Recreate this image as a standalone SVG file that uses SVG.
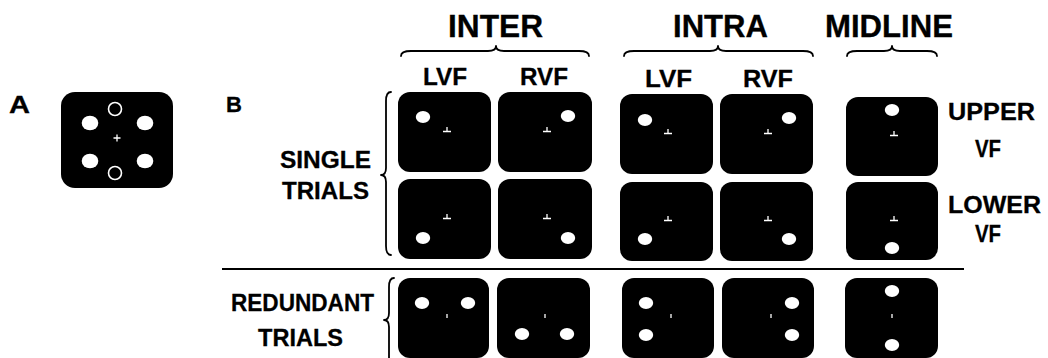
<svg xmlns="http://www.w3.org/2000/svg" width="1048" height="358" viewBox="0 0 1048 358">
  <defs>
    <style>
      .lbl { font-family: "Liberation Sans", Arial, sans-serif; font-weight: bold; fill: #000; stroke: #000; stroke-width: 0.3; }
      .big { font-size: 31px; }
      .mid { font-size: 24px; }
      .scr { fill: #000; }
      .dot { fill: #fff; }
      .ring { fill: none; stroke: #fff; stroke-width: 1.6; }
      .fix { fill: none; stroke: #fff; stroke-width: 1.3; }
      .brace { fill: none; stroke: #000; stroke-width: 1.8; stroke-linecap: round; stroke-linejoin: round; }
      .rule { stroke: #000; stroke-width: 2; }
    </style>
    <!-- fixation mark used in single-target displays -->
    <path id="tee" class="fix" d="M -4,1.5 H 4 M 0,-3 V 1.5"/>
    <!-- fixation tick used in redundant-target displays -->
    <path id="tick" class="fix" d="M 0,-2 V 2"/>
  </defs>

  <!-- Panel A -->
  <g id="panel-a">
    <text class="lbl" x="9" y="113" font-size="23" textLength="21" lengthAdjust="spacingAndGlyphs">A</text>
    <rect class="scr" x="61" y="92" width="112" height="96" rx="14"/>
    <ellipse class="dot" cx="90" cy="123" rx="8.3" ry="7.3"/>
    <ellipse class="dot" cx="145" cy="123" rx="8.3" ry="7.3"/>
    <ellipse class="dot" cx="90" cy="161" rx="8.3" ry="7.3"/>
    <ellipse class="dot" cx="145" cy="161" rx="8.3" ry="7.3"/>
    <circle class="ring" cx="115" cy="109" r="6.5"/>
    <circle class="ring" cx="115" cy="173" r="6.5"/>
    <path class="fix" d="M 113.5,138 H 120.5 M 117,134.5 V 141.5" stroke-width="1.6"/>
  </g>

  <!-- Panel B labels -->
  <g id="panel-b-labels">
    <text class="lbl" x="226" y="112" font-size="22">B</text>
    <text class="lbl big" x="448" y="37" textLength="95" lengthAdjust="spacingAndGlyphs">INTER</text>
    <text class="lbl big" x="673" y="37" textLength="95" lengthAdjust="spacingAndGlyphs">INTRA</text>
    <text class="lbl big" x="825" y="37" textLength="128" lengthAdjust="spacingAndGlyphs">MIDLINE</text>
    <text class="lbl mid" x="423" y="85" textLength="44" lengthAdjust="spacingAndGlyphs">LVF</text>
    <text class="lbl mid" x="520" y="85" textLength="48" lengthAdjust="spacingAndGlyphs">RVF</text>
    <text class="lbl mid" x="645" y="87" textLength="47" lengthAdjust="spacingAndGlyphs">LVF</text>
    <text class="lbl mid" x="743" y="87" textLength="50" lengthAdjust="spacingAndGlyphs">RVF</text>
    <text class="lbl mid" x="948" y="120" textLength="87" lengthAdjust="spacingAndGlyphs">UPPER</text>
    <text class="lbl mid" x="975" y="157" textLength="26" lengthAdjust="spacingAndGlyphs">VF</text>
    <text class="lbl mid" x="948" y="213" textLength="93" lengthAdjust="spacingAndGlyphs">LOWER</text>
    <text class="lbl mid" x="975" y="242" textLength="26" lengthAdjust="spacingAndGlyphs">VF</text>
    <text class="lbl mid" x="280" y="168" textLength="91" lengthAdjust="spacingAndGlyphs">SINGLE</text>
    <text class="lbl mid" x="282" y="199" textLength="87" lengthAdjust="spacingAndGlyphs">TRIALS</text>
    <text class="lbl mid" x="231" y="311" textLength="143" lengthAdjust="spacingAndGlyphs">REDUNDANT</text>
    <text class="lbl mid" x="258" y="346" textLength="85" lengthAdjust="spacingAndGlyphs">TRIALS</text>
  </g>

  <!-- Braces and divider -->
  <g id="connectors">
    <path class="brace" d="M 401,56 Q 401,51 411,51 L 488,51 Q 496,51 496,46 Q 496,51 504,51 L 579,51 Q 589,51 589,56"/>
    <path class="brace" d="M 624,56 Q 624,51 634,51 L 710,51 Q 718,51 718,46 Q 718,51 726,51 L 803,51 Q 813,51 813,56"/>
    <path class="brace" d="M 847,56 Q 847,51 857,51 L 884,51 Q 892,51 892,46 Q 892,51 900,51 L 927,51 Q 937,51 937,56"/>
    <path class="brace" d="M 391,92 Q 386,92 386,101 L 386,168 Q 386,175 381,175 Q 386,175 386,182 L 386,246 Q 386,255 391,255"/>
    <path class="brace" d="M 394,278 Q 389,278 389,287 L 389,313 Q 389,320 384,320 Q 389,320 389,327 L 389,362"/>
    <line class="rule" x1="222" y1="269" x2="964" y2="269"/>
  </g>

  <!-- Single trials, inter-hemispheric -->
  <g id="inter-lvf-upper">
    <rect class="scr" x="398" y="92" width="93" height="80" rx="12"/>
    <ellipse class="dot" cx="423" cy="117" rx="7.2" ry="6"/>
    <use href="#tee" x="447" y="130"/>
  </g>
  <g id="inter-rvf-upper">
    <rect class="scr" x="498" y="92" width="94" height="80" rx="12"/>
    <ellipse class="dot" cx="568" cy="116" rx="7.2" ry="6"/>
    <use href="#tee" x="547" y="130"/>
  </g>
  <g id="inter-lvf-lower">
    <rect class="scr" x="398" y="179" width="93" height="80" rx="12"/>
    <ellipse class="dot" cx="423" cy="238" rx="7.2" ry="6"/>
    <use href="#tee" x="447" y="217"/>
  </g>
  <g id="inter-rvf-lower">
    <rect class="scr" x="498" y="179" width="94" height="80" rx="12"/>
    <ellipse class="dot" cx="568" cy="238" rx="7.2" ry="6"/>
    <use href="#tee" x="547" y="217"/>
  </g>

  <!-- Single trials, intra-hemispheric -->
  <g id="intra-lvf-upper">
    <rect class="scr" x="620" y="94" width="93" height="80" rx="12"/>
    <ellipse class="dot" cx="645" cy="120" rx="7.2" ry="6"/>
    <use href="#tee" x="668" y="132"/>
  </g>
  <g id="intra-rvf-upper">
    <rect class="scr" x="720" y="94" width="93" height="80" rx="12"/>
    <ellipse class="dot" cx="789" cy="118" rx="7.2" ry="6"/>
    <use href="#tee" x="768" y="132"/>
  </g>
  <g id="intra-lvf-lower">
    <rect class="scr" x="620" y="182" width="93" height="79" rx="12"/>
    <ellipse class="dot" cx="645" cy="239" rx="7.2" ry="6"/>
    <use href="#tee" x="668" y="219"/>
  </g>
  <g id="intra-rvf-lower">
    <rect class="scr" x="720" y="182" width="93" height="79" rx="12"/>
    <ellipse class="dot" cx="789" cy="239" rx="7.2" ry="6"/>
    <use href="#tee" x="768" y="219"/>
  </g>

  <!-- Single trials, midline -->
  <g id="midline-upper">
    <rect class="scr" x="846" y="97" width="92" height="79" rx="12"/>
    <ellipse class="dot" cx="892" cy="110" rx="7.2" ry="6"/>
    <use href="#tee" x="894" y="134"/>
  </g>
  <g id="midline-lower">
    <rect class="scr" x="846" y="182" width="92" height="78" rx="12"/>
    <ellipse class="dot" cx="892" cy="248" rx="7.2" ry="6"/>
    <use href="#tee" x="894" y="219"/>
  </g>

  <!-- Redundant trials -->
  <g id="redundant-inter-upper">
    <rect class="scr" x="398" y="278" width="91" height="80" rx="12"/>
    <ellipse class="dot" cx="422" cy="303" rx="7.2" ry="6"/>
    <ellipse class="dot" cx="468" cy="303" rx="7.2" ry="6"/>
    <use href="#tick" x="447" y="316"/>
  </g>
  <g id="redundant-inter-lower">
    <rect class="scr" x="497" y="278" width="93" height="80" rx="12"/>
    <ellipse class="dot" cx="522" cy="334" rx="7.2" ry="6"/>
    <ellipse class="dot" cx="567" cy="334" rx="7.2" ry="6"/>
    <use href="#tick" x="545" y="316"/>
  </g>
  <g id="redundant-intra-left">
    <rect class="scr" x="622" y="278" width="92" height="80" rx="12"/>
    <ellipse class="dot" cx="646" cy="303" rx="7.2" ry="6"/>
    <ellipse class="dot" cx="646" cy="335" rx="7.2" ry="6"/>
    <use href="#tick" x="671" y="316"/>
  </g>
  <g id="redundant-intra-right">
    <rect class="scr" x="722" y="278" width="92" height="80" rx="12"/>
    <ellipse class="dot" cx="792" cy="303" rx="7.2" ry="6"/>
    <ellipse class="dot" cx="792" cy="335" rx="7.2" ry="6"/>
    <use href="#tick" x="771" y="316"/>
  </g>
  <g id="redundant-midline">
    <rect class="scr" x="845" y="278" width="93" height="80" rx="12"/>
    <ellipse class="dot" cx="892" cy="291" rx="7.2" ry="6"/>
    <ellipse class="dot" cx="892" cy="345" rx="7.2" ry="6"/>
    <use href="#tick" x="892" y="316"/>
  </g>
</svg>
